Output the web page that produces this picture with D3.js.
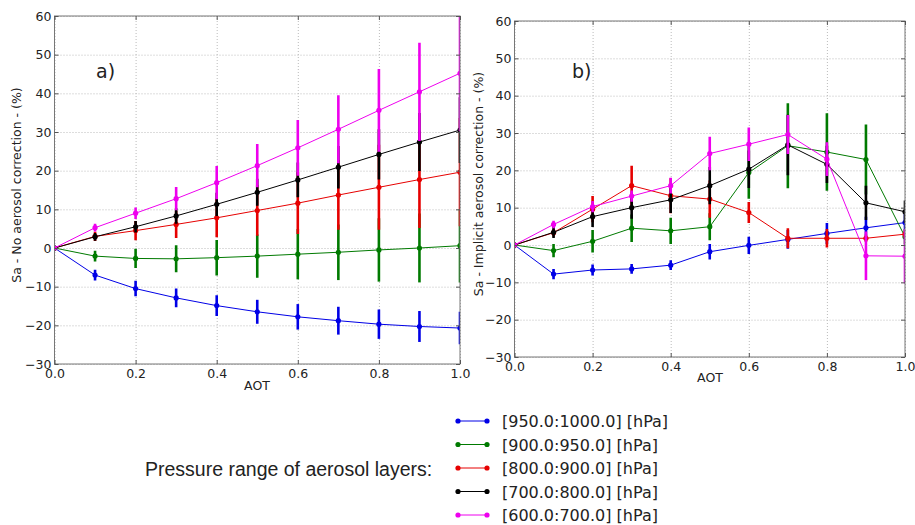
<!DOCTYPE html>
<html>
<head>
<meta charset="utf-8">
<script src="https://cdn.jsdelivr.net/npm/d3@7"></script>
<style>
  body { margin: 0; background: #fff; }
  svg text { font-family: "DejaVu Sans", sans-serif; fill: #222; }
</style>
</head>
<body>
<div class="chart"></div>
<script>
var svgWidth = 915;
var svgHeight = 525;

// data
var aot = [0.0, 0.1, 0.2, 0.3, 0.4, 0.5, 0.6, 0.7, 0.8, 0.9, 1.0];
var layerNames = ["[950.0:1000.0] [hPa]", "[900.0:950.0] [hPa]", "[800.0:900.0] [hPa]", "[700.0:800.0] [hPa]", "[600.0:700.0] [hPa]"];
var layerColors = ["#0000e6", "#007a00", "#e60000", "#000000", "#ee00ee"];
var xTicks = [0.0, 0.2, 0.4, 0.6, 0.8, 1.0];
var yTicks = [-30, -20, -10, 0, 10, 20, 30, 40, 50, 60];

// panel a) no aerosol correction
var noCorrValues = [
  [0, -7.0, -10.5, -12.9, -14.9, -16.5, -17.8, -18.8, -19.7, -20.3, -20.7],
  [0, -2.1, -2.7, -2.8, -2.5, -2.1, -1.6, -1.1, -0.5, 0.0, 0.6],
  [0, 3.0, 4.5, 6.1, 7.8, 9.7, 11.6, 13.7, 15.7, 17.7, 19.6],
  [0, 2.9, 5.5, 8.3, 11.3, 14.4, 17.6, 20.9, 24.2, 27.4, 30.5],
  [0, 5.25, 9.0, 12.75, 16.9, 21.3, 25.9, 30.7, 35.6, 40.4, 45.2]
];
var noCorrErrors = [
  [0, 1.4, 2.0, 2.4, 2.7, 3.1, 3.3, 3.6, 3.8, 4.0, 4.2],
  [0, 1.4, 2.5, 3.5, 4.6, 5.6, 6.5, 7.2, 8.2, 8.9, 9.5],
  [0, 1.2, 2.5, 3.5, 5.0, 6.5, 8.0, 9.0, 11.0, 12.5, 14.0],
  [0, 1.0, 1.5, 2.0, 3.0, 3.5, 4.5, 5.5, 6.5, 7.5, 8.5],
  [0, 1.0, 1.5, 3.0, 4.3, 5.6, 7.2, 8.8, 10.7, 12.7, 15.0]
];

// panel b) implicit aerosol correction
var implicitValues = [
  [0, -7.8, -6.7, -6.4, -5.4, -1.8, -0.1, 1.5, 3.1, 4.6, 6.0],
  [0, -1.5, 1.0, 4.5, 3.8, 4.9, 19.4, 26.6, 24.9, 22.9, 2.2],
  [0, 3.3, 9.6, 15.9, 13.2, 12.3, 8.7, 1.8, 1.8, 1.8, 2.9],
  [0, 3.4, 7.6, 10.0, 12.1, 15.9, 20.3, 26.8, 21.6, 11.3, 8.9],
  [0, 5.5, 10.3, 13.1, 15.9, 24.5, 27.0, 29.6, 23.0, -2.9, -3.0]
];
var implicitErrors = [
  [0, 1.4, 1.5, 1.3, 1.3, 2.1, 2.3, 2.5, 2.8, 3.0, 3.0],
  [0, 1.8, 3.0, 3.7, 3.5, 3.6, 7.0, 11.4, 10.4, 9.4, 2.0],
  [0, 1.0, 3.5, 5.3, 4.7, 5.0, 2.8, 2.7, 2.5, 1.0, 1.0],
  [0, 1.5, 2.8, 3.0, 3.5, 5.0, 5.0, 8.1, 5.0, 4.6, 3.0],
  [0, 1.0, 1.5, 1.5, 2.1, 4.5, 4.5, 5.2, 4.5, 6.5, 7.3]
];

var svg = d3.select(".chart")
  .append("svg")
  .attr("width", svgWidth)
  .attr("height", svgHeight);

function drawPanel(opt) {
  var width = opt.right - opt.left;
  var height = opt.bottom - opt.top;

  var xScale = d3.scaleLinear().domain([0, 1]).range([0, width]);
  var yScale = d3.scaleLinear().domain([-30, 60]).range([height, 0]);

  var g = svg.append("g")
    .attr("transform", `translate(${opt.left}, ${opt.top})`);

  g.append("clipPath")
    .attr("id", opt.id + "-clip")
    .append("rect")
    .attr("width", width)
    .attr("height", height);

  // dotted grid
  g.append("g")
    .attr("transform", `translate(0, ${height})`)
    .call(d3.axisBottom(xScale).tickValues(xTicks).tickSize(-height).tickFormat(""))
    .call(s => s.select(".domain").remove())
    .selectAll("line")
    .attr("stroke", "#bbb")
    .attr("stroke-dasharray", "1,2");

  g.append("g")
    .call(d3.axisLeft(yScale).tickValues(yTicks).tickSize(-width).tickFormat(""))
    .call(s => s.select(".domain").remove())
    .selectAll("line")
    .attr("stroke", "#bbb")
    .attr("stroke-dasharray", "1,2");

  // series
  var plot = g.append("g").attr("clip-path", `url(#${opt.id}-clip)`);
  opt.values.forEach(function(vals, i) {
    var pts = aot.map((a, j) => ({x: a, y: vals[j], e: opt.errors[i][j]}));
    var sg = plot.append("g");

    sg.selectAll("line.err")
      .data(pts.filter(d => d.e > 0))
      .enter()
      .append("line")
      .classed("err", true)
      .attr("x1", d => xScale(d.x))
      .attr("x2", d => xScale(d.x))
      .attr("y1", d => yScale(d.y - d.e))
      .attr("y2", d => yScale(d.y + d.e))
      .attr("stroke", layerColors[i])
      .attr("stroke-width", 2.6);

    sg.append("path")
      .datum(pts)
      .attr("d", d3.line().x(d => xScale(d.x)).y(d => yScale(d.y)))
      .attr("fill", "none")
      .attr("stroke", layerColors[i])
      .attr("stroke-width", 1);

    sg.selectAll("circle")
      .data(pts)
      .enter()
      .append("circle")
      .attr("cx", d => xScale(d.x))
      .attr("cy", d => yScale(d.y))
      .attr("r", 2.6)
      .attr("fill", layerColors[i]);
  });

  // frame
  g.append("rect")
    .attr("width", width)
    .attr("height", height)
    .attr("fill", "none")
    .attr("stroke", "#777")
    .attr("stroke-width", 1);

  // axes with inward ticks
  g.append("g")
    .attr("transform", `translate(0, ${height})`)
    .call(d3.axisBottom(xScale).tickValues(xTicks).tickFormat(d3.format(".1f")).tickSizeInner(-4).tickSizeOuter(0).tickPadding(5));
  g.append("g")
    .call(d3.axisLeft(yScale).tickValues(yTicks).tickSizeInner(-4).tickSizeOuter(0).tickPadding(3));
  g.append("g")
    .call(d3.axisTop(xScale).tickValues(xTicks).tickFormat("").tickSizeInner(-4).tickSizeOuter(0));
  g.append("g")
    .attr("transform", `translate(${width}, 0)`)
    .call(d3.axisRight(yScale).tickValues(yTicks).tickFormat("").tickSizeInner(-4).tickSizeOuter(0));

  g.selectAll(".domain").remove();
  g.selectAll(".tick line").filter(function() { return d3.select(this).attr("stroke-dasharray") == null; })
    .attr("stroke", "#555");
  g.selectAll(".tick text")
    .attr("font-size", "12.5px")
    .attr("font-family", "DejaVu Sans")
    .attr("fill", "#222");

  // axis labels
  g.append("text")
    .attr("x", opt.xLabelX - opt.left)
    .attr("y", opt.xLabelY - opt.top)
    .attr("text-anchor", "middle")
    .attr("font-size", "12.5px")
    .text("AOT");

  g.append("text")
    .attr("transform", `translate(${opt.yLabelX - opt.left}, ${height / 2 - 5}) rotate(-90)`)
    .attr("text-anchor", "middle")
    .attr("font-size", "12.5px")
    .text(opt.yLabel);

  g.append("text")
    .attr("x", opt.tagX - opt.left)
    .attr("y", opt.tagY - opt.top)
    .attr("font-size", "19px")
    .text(opt.tag);
}

drawPanel({
  id: "pa", left: 54.5, right: 460, top: 16, bottom: 364,
  values: noCorrValues, errors: noCorrErrors,
  yLabel: "Sa - No aerosol correction - (%)", yLabelX: 21,
  xLabelX: 257, xLabelY: 390, tag: "a)", tagX: 96, tagY: 78
});

drawPanel({
  id: "pb", left: 514.5, right: 905, top: 21, bottom: 357,
  values: implicitValues, errors: implicitErrors,
  yLabel: "Sa - Implicit aerosol correction - (%)", yLabelX: 483,
  xLabelX: 710, xLabelY: 382, tag: "b)", tagX: 572, tagY: 78
});

// legend
var legend = svg.append("g").attr("transform", "translate(458, 421)");
layerNames.forEach(function(name, i) {
  var row = legend.append("g").attr("transform", `translate(0, ${i * 23.5})`);
  row.append("line")
    .attr("x1", 0).attr("x2", 29)
    .attr("stroke", layerColors[i]).attr("stroke-width", 1);
  row.selectAll("circle")
    .data([0, 29])
    .enter()
    .append("circle")
    .attr("cx", d => d)
    .attr("r", 2.6)
    .attr("fill", layerColors[i]);
  row.append("text")
    .attr("x", 44)
    .attr("y", 6)
    .attr("font-size", "16px")
    .text(name);
});

svg.append("text")
  .attr("x", 145)
  .attr("y", 476)
  .attr("font-size", "19.5px")
  .style("font-family", "'Liberation Sans', Arial, sans-serif")
  .text("Pressure range of aerosol layers:");
</script>
</body>
</html>
